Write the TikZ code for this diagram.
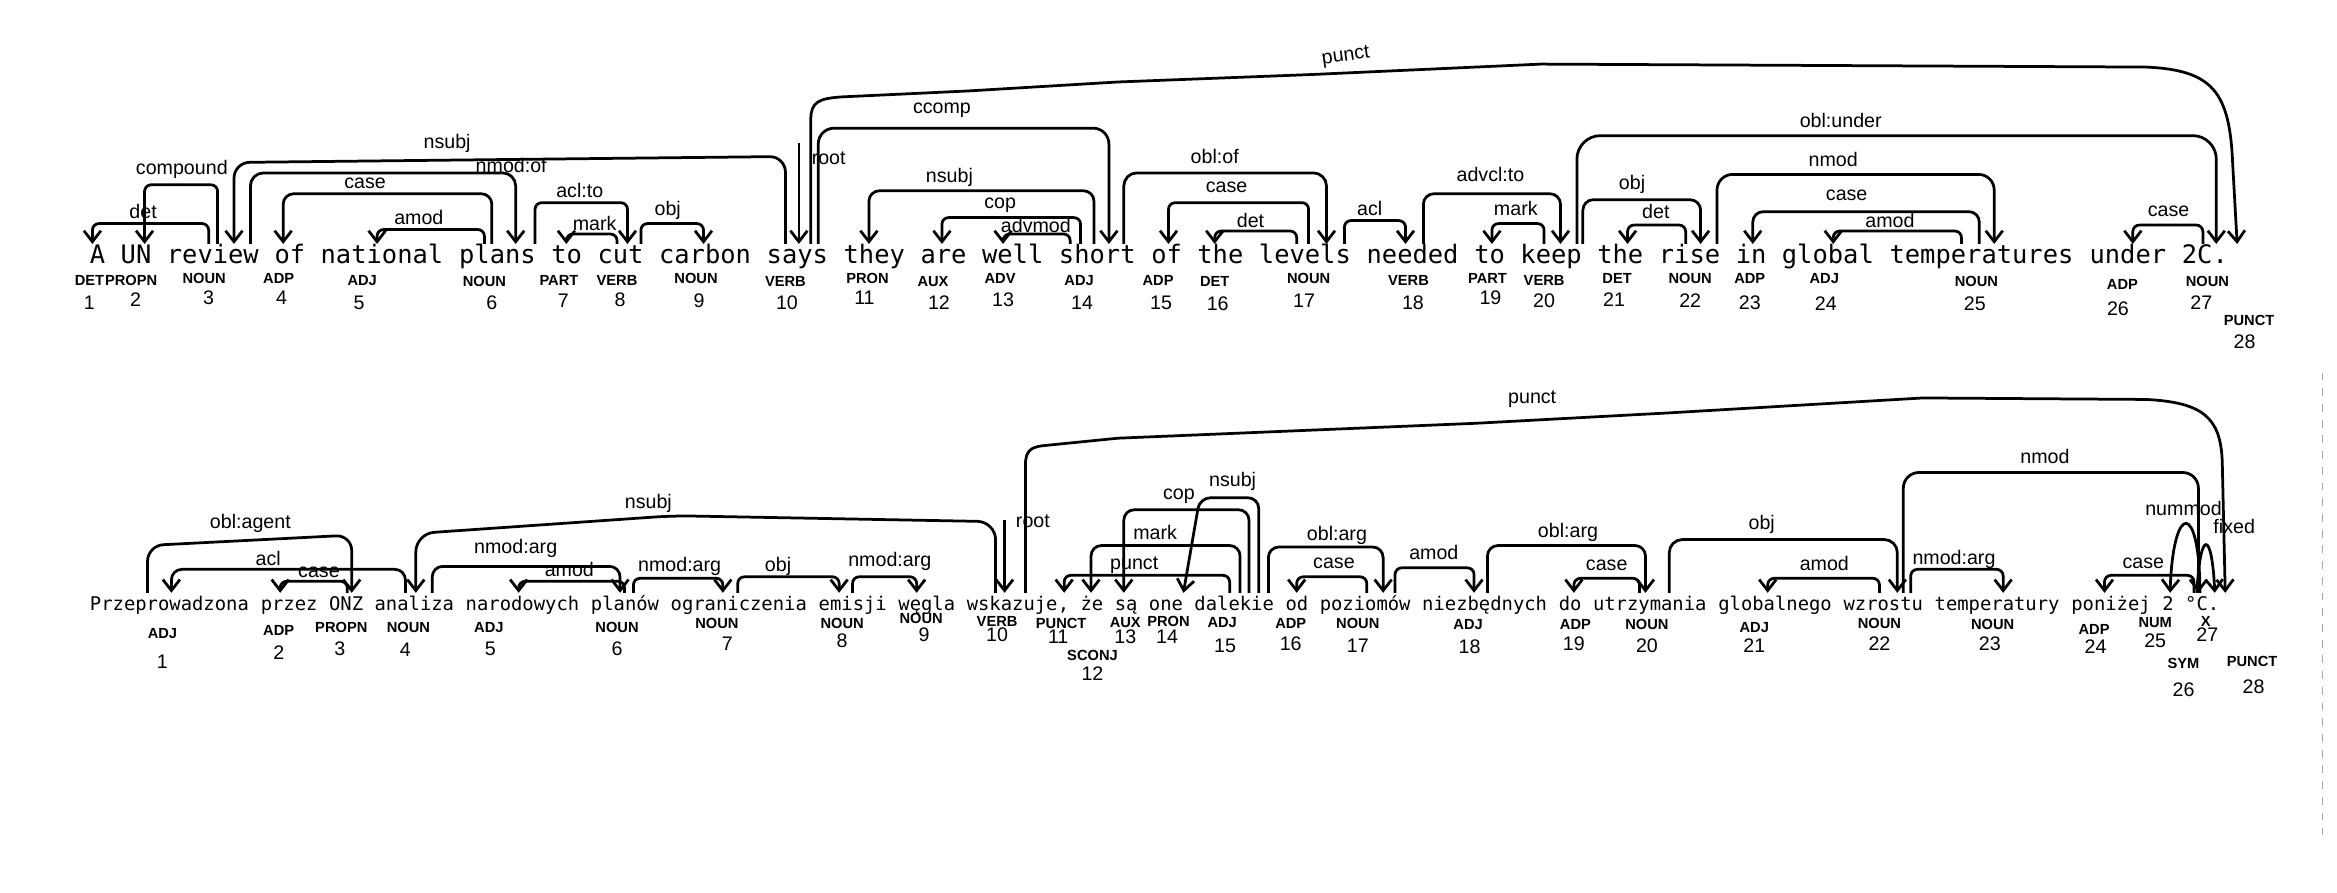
\documentclass[tikz,border=0pt]{standalone}
\usepackage{fontspec}
\usetikzlibrary{calc,arrows.meta}
\newfontfamily\wordfont{DejaVu Sans Mono}
\newfontfamily\hwfont{Liberation Sans}
\newcounter{labc}
\tikzset{
 topword/.style={anchor=base west, inner sep=0pt, text height=7.1pt, text depth=0pt, font=\fontsize{9.72}{11}\wordfont},
 botword/.style={anchor=base west, inner sep=0pt, text height=6.5pt, text depth=0pt, font=\fontsize{7.2}{9}\wordfont},
 postag/.style={inner sep=0pt, font=\fontsize{5.6}{6}\hwfont\bfseries},
 idx/.style={inner sep=0pt, font=\fontsize{7.5}{8}\hwfont},
 lab/.style={inner sep=0pt, font=\fontsize{7.5}{8}\hwfont},
 deparc/.style={line width=1.05pt, rounded corners=2.5pt, -{Straight Barb[length=4.2pt,width=6.5pt]}},
}
\newcommand\udarc[9][]{%
  \coordinate (hx) at (#3,0);
  \coordinate (dx) at (#5,0);
  \coordinate (yy) at (0,#6);
  \draw[deparc,#1] (#2.north -| hx) -- (hx |- yy) -- (dx |- yy) -- (#4.north -| dx);
  \stepcounter{labc}\node[lab] (lab\thelabc) at (#8,#9) {#7};
}
\begin{document}
\begin{tikzpicture}[x=0.02cm,y=-0.02cm]
\fill[white] (0,0) rectangle (1568,599);
\useasboundingbox (0,0) rectangle (1568,599);
% ---------- top sentence ----------
\foreach \n/\s/\w in {1/0/A,2/2/UN,3/5/review,4/12/of,5/15/national,6/24/plans,7/30/to,8/33/cut,9/37/carbon,10/44/says,11/49/they,12/54/are,13/58/well,14/63/short,15/69/of,16/72/the,17/76/levels,18/83/needed,19/90/to,20/93/keep,21/98/the,22/102/rise,23/107/in,24/110/global,25/117/temperatures,26/130/under,27/136/2C,28/138/.}
  {\node[topword] (t\n) at (60+10.32*\s,176.5) {\w};}
% POS tags top
\foreach \n/\x/\y/\p in {1/60/188/DET,2/88/188/PROPN,3/137/187/NOUN,4/187/187/ADP,5/243/188/ADJ,6/325/189/NOUN,7/375/188/PART,8/414/188/VERB,9/467/187/NOUN,10/527/189/VERB,11/582/187/PRON,12/626/189/AUX,13/671/187/ADV,14/724/188/ADJ,15/777/188/ADP,16/815/189/DET,17/878/187/NOUN,18/945/188/VERB,19/998/187/PART,20/1036/188/VERB,21/1085/187/DET,22/1134/187/NOUN,23/1174/187/ADP,24/1224/187/ADJ,25/1326/189/NOUN,26/1424/191/ADP,27/1481/189/NOUN,28/1509/215/PUNCT}
  {\node[postag] (tp\n) at (\x,\y) {\p};}
\foreach \n/\x/\y in {1/60/203,2/91/201,3/140/200,4/189/200,5/241/203,6/330/203,7/378/202,8/416/201,9/469/202,10/528/203,11/580/200,12/630/203,13/673/201,14/726/203,15/779/203,16/817/204,17/875/202,18/948/203,19/1000/200,20/1036/202,21/1083/201,22/1134/202,23/1174/203,24/1225/204,25/1325/204,26/1421/207,27/1477/203,28/1506/229}
  {\node[idx] (tn\n) at (\x,\y) {\n};}
% top arcs
\udarc{t3}{140}{t1}{62}{150}{det}{96}{142}
\udarc{t3}{146}{t2}{97}{124}{compound}{122}{114}
\coordinate (a1) at (527,0); \coordinate (a2) at (157,0);
\draw[deparc,rounded corners=6pt] (t10.north -| a1) -- (527,105) -- (157,109) -- (t3.north -| a2);
\node[lab] (labnsubjA) at (300,96) {nsubj};
\udarc[rounded corners=5pt]{t3}{168}{t6}{346}{116}{nmod:of}{343}{111}
\udarc[rounded corners=4pt]{t6}{330}{t4}{190}{130}{case}{245}{123}
\udarc{t6}{325}{t5}{253}{154}{amod}{281}{146}
\udarc{t6}{359}{t8}{421}{136}{acl:to}{389}{128}
\udarc{t8}{414}{t7}{380}{157}{mark}{399}{150}
\udarc{t8}{430}{t9}{472}{150}{obj}{448}{141}
\coordinate (r1) at (536,96);
\draw[deparc] (r1) -- (t10.north -| r1);
\node[lab] (labrootA) at (556,106) {root};
\coordinate (pa) at (544,0); \coordinate (pb) at (1501,0);
\draw[deparc,rounded corners=0pt] (t10.north -| pa) -- (544,80) .. controls (544,68) and (550,66) .. (565,65) -- (650,61) -- (750,55) -- (880,50) -- (1034,43) -- (1440,45) .. controls (1485,47) and (1496,62) .. (1498,110) -- (t28.north -| pb);
\node[lab,rotate=8] (labpunctA) at (903,38) {punct};
\udarc[rounded corners=6pt]{t10}{549}{t14}{744}{86}{ccomp}{632}{74}
\udarc[rounded corners=4pt]{t14}{734}{t11}{583}{128}{nsubj}{637}{119}
\udarc{t14}{725}{t12}{632}{146}{cop}{671}{138}
\udarc{t14}{718}{t13}{673}{157}{advmod}{695}{151}
\udarc[rounded corners=5pt]{t14}{754}{t17}{890}{116}{obl:of}{815}{105}
\udarc{t17}{878}{t15}{784}{136}{case}{823}{126}
\udarc{t17}{870}{t16}{815}{155}{det}{839}{148}
\udarc{t17}{902}{t18}{943}{148}{acl}{919}{140}
\udarc[rounded corners=4pt]{t18}{955}{t20}{1047}{130}{advcl:to}{1000}{117}
\udarc{t20}{1036}{t19}{1001}{150}{mark}{1017}{140}
\udarc[rounded corners=9pt]{t20}{1058}{t27}{1487}{91}{obl:under}{1235}{81}
\udarc[rounded corners=4pt]{t20}{1062}{t22}{1141}{134}{obj}{1095}{124}
\udarc{t22}{1131}{t21}{1092}{151}{det}{1111}{142}
\udarc[rounded corners=6pt]{t22}{1152}{t25}{1338}{117}{nmod}{1230}{107}
\udarc[rounded corners=4pt]{t25}{1328}{t23}{1176}{142}{case}{1239}{131}
\udarc{t25}{1316}{t24}{1230}{155}{amod}{1268}{148}
\udarc{t27}{1478}{t26}{1431}{151}{case}{1455}{142}
% ---------- bottom sentence ----------
\foreach \n/\s/\w in {1/0/Przeprowadzona,2/15/przez,3/21/ONZ,4/25/analiza,5/33/narodowych,6/44/planów,7/51/ograniczenia,8/64/emisji,9/71/węgla,10/77/wskazuje,11/85/{,},12/87/że,13/90/są,14/93/one,15/97/dalekie,16/105/od,17/108/poziomów,18/117/niezbędnych,19/129/do,20/132/utrzymania,21/143/globalnego,22/154/wzrostu,23/162/temperatury,24/174/poniżej,25/182/2,26/184/°,27/185/C,28/186/.}
  {\node[botword] (b\n) at (60+7.64*\s,409.5) {\w};}
\foreach \n/\x/\y/\p in {1/109/425/ADJ,2/187/423/ADP,3/229/421/PROPN,4/274/421/NOUN,5/328/421/ADJ,6/414/421/NOUN,7/481/418/NOUN,8/565/418/NOUN,9/618/415/NOUN,10/669/417/VERB,11/712/418/PUNCT,12/733/440/SCONJ,13/755/418/AUX,14/784/417/PRON,15/820/418/ADJ,16/866/418/ADP,17/911/418/NOUN,18/985/419/ADJ,19/1057/419/ADP,20/1105/419/NOUN,21/1177/421/ADJ,22/1261/418/NOUN,23/1337/419/NOUN,24/1405/422/ADP,25/1446/418/NUM,26/1465/445/SYM,27/1480/417/X,28/1511/444/PUNCT}
  {\node[postag] (bp\n) at (\x,\y) {\p};}
\foreach \n/\x/\y in {1/109/444,2/187/438,3/228/435,4/272/436,5/329/435,6/414/435,7/488/432,8/565/430,9/620/426,10/669/426,11/710/427,12/733/452,13/755/427,14/783/427,15/822/433,16/866/432,17/911/433,18/986/434,19/1056/432,20/1105/433,21/1177/433,22/1261/432,23/1335/432,24/1406/434,25/1446/430,26/1465/463,27/1481/426,28/1512/461}
  {\node[idx] (bn\n) at (\x,\y) {\n};}
% bottom arcs
\coordinate (c1) at (99,0); \coordinate (c2) at (236,0);
\draw[deparc,rounded corners=6pt] (b1.north -| c1) -- (99,366) -- (236,359) -- (b3.north -| c2);
\node[lab] (labagent) at (168,351) {obl:agent};
\udarc[rounded corners=4pt]{b4}{272}{b1}{115}{382}{acl}{180}{375}
\udarc{b3}{233}{b2}{188}{390}{case}{214}{384}
\coordinate (c3) at (668,0); \coordinate (c4) at (279,0);
\draw[deparc,rounded corners=7pt] (b10.north -| c3) -- (668,350) -- (452,346) -- (279,358) -- (b4.north -| c4);
\node[lab] (labnsubjB) at (435,338) {nsubj};
\udarc[rounded corners=4pt]{b4}{290}{b6}{416}{380}{nmod:arg}{346}{368}
\udarc{b6}{419}{b5}{348}{390}{amod}{382}{382}
\udarc{b6}{425}{b7}{485}{388}{nmod:arg}{456}{380}
\udarc{b7}{495}{b8}{563}{387}{obj}{522}{380}
\udarc{b8}{572}{b9}{615}{387}{nmod:arg}{597}{377}
\coordinate (r2) at (674,349);
\draw[deparc] (r2) -- (b10.north -| r2);
\node[lab] (labrootB) at (693,350) {root};
\coordinate (qa) at (688,0); \coordinate (qb) at (1493,0);
\draw[deparc,rounded corners=0pt] (b10.north -| qa) -- (688,312) .. controls (688,302) and (692,300) .. (700,299) -- (750,294) -- (990,284) -- (1120,277) -- (1290,267) -- (1440,268) .. controls (1478,270) and (1490,280) .. (1491,310) -- (b28.north -| qb);
\node[lab] (labpunctB) at (1028,268) {punct};
\udarc{b15}{825}{b11}{714}{386}{punct}{761}{379}
\udarc[rounded corners=4pt]{b15}{832}{b12}{732}{366}{mark}{775}{357}
\udarc[rounded corners=4pt]{b15}{838}{b13}{754}{342}{cop}{791}{333}
\coordinate (c5) at (844.5,0); \coordinate (c6) at (794,0);
\draw[deparc,rounded corners=4pt] (b15.north -| c5) -- (844.5,334) -- (805,334) -- (b14.north -| c6);
\node[lab] (labnsubjC) at (827,323) {nsubj};
\udarc[rounded corners=4pt]{b15}{851}{b17}{928}{367}{obl:arg}{897}{359}
\udarc{b17}{917}{b16}{870}{387}{case}{895}{378}
\udarc{b17}{936}{b18}{989}{381}{amod}{962}{371}
\udarc[rounded corners=4pt]{b18}{998}{b20}{1104}{366}{obl:arg}{1052}{357}
\udarc{b20}{1100}{b19}{1056}{388}{case}{1078}{379}
\udarc[rounded corners=5pt]{b20}{1120}{b22}{1273}{362}{obj}{1182}{352}
\udarc{b22}{1261}{b21}{1186}{388}{amod}{1224}{378}
\udarc{b22}{1282}{b23}{1344}{382}{nmod:arg}{1311}{375}
\udarc[rounded corners=6pt]{b22}{1277}{b26}{1475}{317}{nmod}{1372}{306}
\udarc{b26}{1472}{b24}{1412}{386}{case}{1438}{378}
\coordinate (c7) at (1476,0); \coordinate (c8) at (1456,0);
\draw[deparc,rounded corners=0pt] (b26.north -| c7) .. controls (1476,336) and (1458,336) .. (b25.north -| c8);
\node[lab] (labnummod) at (1465,341) {nummod};
\coordinate (c9) at (1474,0); \coordinate (c10) at (1486,0);
\draw[deparc,rounded corners=0pt] (b26.north -| c9) .. controls (1476,355) and (1484,355) .. (b27.north -| c10);
\node[lab] (labfixed) at (1499,353) {fixed};
% scan edge
\draw[black!35, dashed, line width=0.4pt] (1558,250) -- (1558,560);
\end{tikzpicture}
\end{document}
